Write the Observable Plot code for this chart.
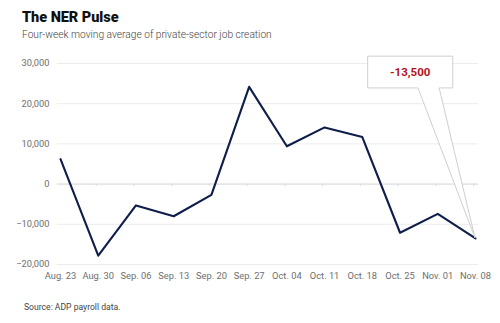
<!DOCTYPE html>
<html>
<head>
<meta charset="utf-8">
<script src="https://cdn.jsdelivr.net/npm/d3@7"></script>
<script src="https://cdn.jsdelivr.net/npm/@observablehq/plot@0.6"></script>
<style>
  html, body { margin: 0; padding: 0; background: #fff; }
  body { width: 500px; height: 323px; overflow: hidden; font-family: Roboto, "Noto Sans", sans-serif; }
  #head { position: relative; height: 45px; }
  #title { position: absolute; left: 22px; top: 9px; font-size: 14.5px; font-weight: 900; color: #111; letter-spacing: -0.05px; }
  #subtitle { position: absolute; left: 22px; top: 29px; font-size: 10.2px; font-weight: 300; color: #444; }
  #foot { position: relative; height: 33px; }
  #source { position: absolute; left: 24px; top: 12px; font-size: 8.6px; font-weight: 400; color: #444; }
  #chart svg { display: block; }
</style>
</head>
<body>
<div id="head"><div id="title">The NER Pulse</div><div id="subtitle">Four-week moving average of private-sector job creation</div></div>
<div id="chart"></div>
<div id="foot"><div id="source">Source: ADP payroll data.</div></div>
<script>
const weeks = ["Aug. 23","Aug. 30","Sep. 06","Sep. 13","Sep. 20","Sep. 27","Oct. 04","Oct. 11","Oct. 18","Oct. 25","Nov. 01","Nov. 08"];
const jobs = [6200, -17800, -5300, -8000, -2700, 24200, 9400, 14100, 11700, -12100, -7400, -13500];
const yTicks = [-20000, -10000, 0, 10000, 20000, 30000];
const calloutText = "-13,500";

const data = weeks.map((w, i) => ({i, week: w, value: jobs[i]}));
const last = data[data.length - 1];
const fmt = d3.format(",");

// speech-bubble callout drawn with the plot's scales
const callout = (index, scales) => {
  const x = scales.x, y = scales.y;
  const px = x(last.i), py = y(last.value);
  const bx1 = x(last.i - 2.845), bx2 = x(last.i - 0.59);
  const by1 = y(31700), by2 = y(23800);
  const w1 = x(last.i - 1.51), w2 = x(last.i - 0.95);
  const g = d3.create("svg:g");
  g.append("path")
    .attr("d", `M${bx1},${by1}H${bx2}V${by2}H${w2}L${px},${py}L${w1},${by2}H${bx1}Z`)
    .attr("fill", "#fff").attr("stroke", "#cfcfcf").attr("stroke-width", 1);
  g.append("text")
    .attr("x", (bx1 + bx2) / 2).attr("y", (by1 + by2) / 2 + 4)
    .attr("text-anchor", "middle")
    .attr("fill", "#b3121d").attr("font-weight", 700).attr("font-size", 11.5)
    .attr("font-family", "Roboto, sans-serif")
    .text(calloutText);
  return g.node();
};

const plot = Plot.plot({
  width: 500,
  height: 245,
  marginTop: 18,
  marginBottom: 26,
  marginLeft: 57,
  marginRight: 22,
  style: {fontFamily: "Roboto, sans-serif", fontSize: "9.3px", color: "#6e6e6e", background: "#fff"},
  x: {type: "linear", domain: [-0.08, 11.08], ticks: d3.range(weeks.length), tickFormat: i => weeks[i], tickSize: 0, tickPadding: 8, label: null},
  y: {domain: [-20000, 30000], ticks: yTicks, tickFormat: d => fmt(d), tickSize: 0, tickPadding: 8, label: null},
  marks: [
    Plot.ruleY(yTicks, {stroke: "#ececec", strokeWidth: 1}),
    Plot.ruleY([0], {stroke: "#e2e2e2", strokeWidth: 1.3}),
    Plot.ruleX(data.slice(1), {x: "i", y1: 0, y2: -650, stroke: "#dcdcdc", dx: -2}),
    Plot.line(data, {x: "i", y: "value", stroke: "#0e1d4a", strokeWidth: 2.1}),
    callout
  ]
});
document.getElementById("chart").appendChild(plot);
</script>
</body>
</html>
